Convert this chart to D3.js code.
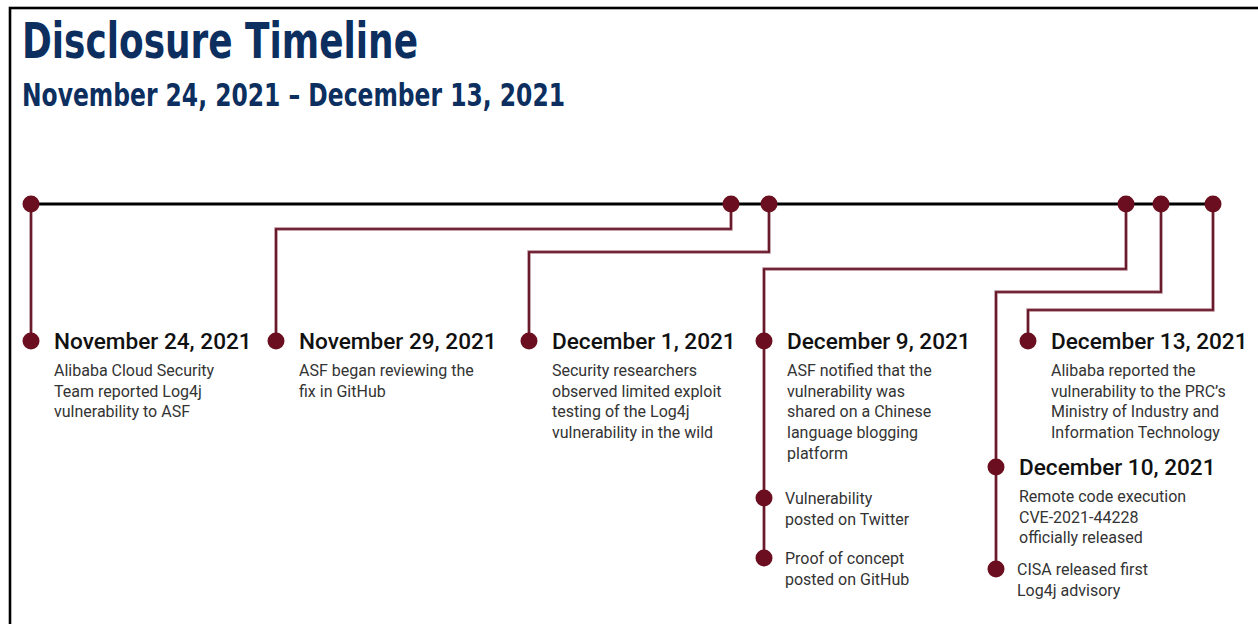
<!DOCTYPE html>
<html>
<head>
<meta charset="utf-8">
<script src="https://cdn.jsdelivr.net/npm/d3@7"></script>
<style>
  html, body { margin: 0; padding: 0; background: #fff; }
  svg { display: block; }
</style>
</head>
<body>
<svg id="chart" width="1258" height="624"></svg>
<script>
// ---------- DATA ----------
const title = "Disclosure Timeline";
const subtitle = "November 24, 2021 \u2013 December 13, 2021";

const eventDates = ["2021-11-24", "2021-11-29", "2021-12-01", "2021-12-09", "2021-12-10", "2021-12-13"];
const eventLabels = ["November 24, 2021", "November 29, 2021", "December 1, 2021", "December 9, 2021", "December 10, 2021", "December 13, 2021"];
const eventDescriptions = [
  ["Alibaba Cloud Security", "Team reported Log4j", "vulnerability to ASF"],
  ["ASF began reviewing the", "fix in GitHub"],
  ["Security researchers", "observed limited exploit", "testing of the Log4j", "vulnerability in the wild"],
  ["ASF notified that the", "vulnerability was", "shared on a Chinese", "language blogging", "platform"],
  ["Remote code execution", "CVE-2021-44228", "officially released"],
  ["Alibaba reported the", "vulnerability to the PRC\u2019s", "Ministry of Industry and", "Information Technology"]
];
const subEventParents = ["December 9, 2021", "December 9, 2021", "December 10, 2021"];
const subEventTexts = [
  ["Vulnerability", "posted on Twitter"],
  ["Proof of concept", "posted on GitHub"],
  ["CISA released first", "Log4j advisory"]
];

// ---------- LAYOUT ----------
const W = 1258, H = 624;
const axisY = 204;
const topPositions = [31, 731, 769, 1126, 1161, 1213];       // piecewise axis range
const labelX = [31, 276, 529, 764, 996, 1028];               // label dot columns
const labelY = [341, 341, 341, 341, 467, 341];               // label dot rows
const elbowY = [null, 229, 252, 269, 292, 310];              // horizontal run of each connector
const subEventY = [498, 558, 569];
const maroon = "#6a0e20";
const lineH = 20.7;

const parse = d3.timeParse("%Y-%m-%d");
const x = d3.scaleTime().domain(eventDates.map(parse)).range(topPositions);

const svg = d3.select("#chart");

// frame
svg.append("rect").attr("x", 10).attr("y", 8).attr("width", W + 20).attr("height", H + 20)
  .attr("fill", "none").attr("stroke", "#000").attr("stroke-width", 2.6);

// titles
svg.append("text").attr("x", 22).attr("y", 58).text(title)
  .attr("font-family", "'Liberation Sans Narrow', 'DejaVu Sans Condensed', sans-serif")
  .attr("font-weight", 700).attr("font-size", 50).attr("fill", "#0c2f5f")
  .attr("textLength", 396).attr("lengthAdjust", "spacingAndGlyphs");
svg.append("text").attr("x", 22).attr("y", 106).text(subtitle)
  .attr("font-family", "'Liberation Sans Narrow', 'DejaVu Sans Condensed', sans-serif")
  .attr("font-weight", 700).attr("font-size", 32).attr("fill", "#0c2f5f")
  .attr("textLength", 543).attr("lengthAdjust", "spacingAndGlyphs");

// build events
const events = eventDates.map((d, i) => ({
  date: parse(d), label: eventLabels[i], desc: eventDescriptions[i],
  lx: labelX[i], ly: labelY[i], ey: elbowY[i]
}));
const subs = subEventTexts.map((t, i) => {
  const p = events.find(e => e.label === subEventParents[i]);
  return { parent: p, lines: t, y: subEventY[i] };
});

// connectors
function connectorPath(e) {
  const tx = x(e.date);
  const bottom = d3.max([e.ly].concat(subs.filter(s => s.parent === e).map(s => s.y)));
  const p = d3.path();
  p.moveTo(tx, axisY);
  if (e.ey == null) {
    p.lineTo(tx, bottom);
  } else {
    p.lineTo(tx, e.ey);
    p.lineTo(e.lx, e.ey);
    p.lineTo(e.lx, bottom);
  }
  return p.toString();
}
const conn = svg.append("g");
conn.selectAll("path.outer").data(events).join("path").attr("class", "outer")
  .attr("d", connectorPath).attr("fill", "none").attr("stroke", "#b4838d").attr("stroke-width", 3.4);
conn.selectAll("path.inner").data(events).join("path").attr("class", "inner")
  .attr("d", connectorPath).attr("fill", "none").attr("stroke", "#5c0a1c").attr("stroke-width", 1.7);

// main axis
svg.append("line").attr("x1", x(events[0].date)).attr("x2", x(events[events.length - 1].date))
  .attr("y1", axisY).attr("y2", axisY).attr("stroke", "#000").attr("stroke-width", 3);

// top dots
svg.append("g").selectAll("circle").data(events).join("circle")
  .attr("cx", d => x(d.date)).attr("cy", axisY).attr("r", 8.5).attr("fill", maroon);

// label dots
svg.append("g").selectAll("circle").data(events).join("circle")
  .attr("cx", d => d.lx).attr("cy", d => d.ly).attr("r", 8.5).attr("fill", maroon);
svg.append("g").selectAll("circle").data(subs).join("circle")
  .attr("cx", d => d.parent.lx).attr("cy", d => d.y).attr("r", 8.5).attr("fill", maroon);

// headers
const lab = svg.append("g");
lab.selectAll("text.hdr").data(events).join("text").attr("class", "hdr")
  .attr("x", d => d.lx + 23).attr("y", d => d.ly + 8)
  .attr("font-family", "Roboto, 'Liberation Sans', sans-serif").attr("font-weight", 500)
  .attr("font-size", 22.6).attr("fill", "#111").text(d => d.label);

// descriptions
lab.selectAll("text.desc").data(events).join("text").attr("class", "desc")
  .attr("font-family", "Roboto, 'Liberation Sans', sans-serif").attr("font-size", 16)
  .attr("fill", "#333")
  .each(function(d) {
    d3.select(this).selectAll("tspan").data(d.desc).join("tspan")
      .attr("x", d.lx + 23).attr("y", (t, j) => d.ly + 35 + j * lineH).text(t => t);
  });
lab.selectAll("text.sub").data(subs).join("text").attr("class", "sub")
  .attr("font-family", "Roboto, 'Liberation Sans', sans-serif").attr("font-size", 16)
  .attr("fill", "#333")
  .each(function(d) {
    d3.select(this).selectAll("tspan").data(d.lines).join("tspan")
      .attr("x", d.parent.lx + 21).attr("y", (t, j) => d.y + 6 + j * lineH).text(t => t);
  });
</script>
</body>
</html>
